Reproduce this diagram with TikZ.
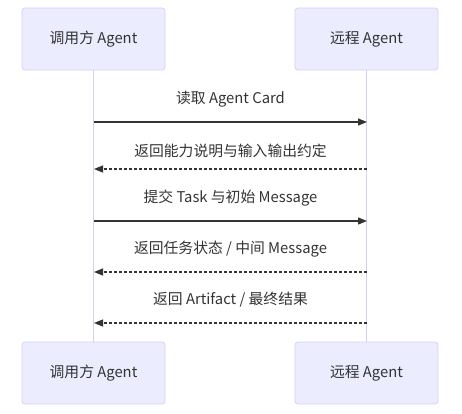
\documentclass[tikz,border=0pt]{standalone}
\usepackage{fontspec}
\setmainfont{Noto Sans CJK SC}
\usetikzlibrary{arrows.meta}
\definecolor{actfill}{HTML}{ECECFF}
\definecolor{actborder}{HTML}{D7D0F3}
\definecolor{txt}{HTML}{333333}
\tikzset{
  actor/.style={draw=actborder, fill=actfill, rounded corners=3pt, minimum width=143pt, minimum height=62pt, inner sep=0pt, font=\fontsize{14.8}{16}\selectfont, text=txt, line width=0.8pt},
  lifeline/.style={draw=actborder, line width=1.2pt},
  msg/.style={draw=txt, line width=1.2pt, -{Triangle[length=9pt,width=7pt]}},
  reply/.style={msg, dash pattern=on 3pt off 2pt},
  lbl/.style={font=\fontsize{14.8}{16}\selectfont, text=txt, inner sep=0pt}
}
\begin{document}
\begin{tikzpicture}[x=1pt,y=-1pt]
\useasboundingbox (0,0) rectangle (462,413);
\node[actor] (a1) at (93.5,39) {调用方 Agent};
\node[actor] (b1) at (366.5,39) {远程 Agent};
\node[actor] (a2) at (93.5,373) {调用方 Agent};
\node[actor] (b2) at (366.5,373) {远程 Agent};
\draw[lifeline] (a1.south) -- (a2.north);
\draw[lifeline] (b1.south) -- (b2.north);
\coordinate (p1) at (94,122);
\coordinate (q1) at (367,122);
\coordinate (p2) at (94,169);
\coordinate (q2) at (367,169);
\coordinate (p3) at (94,221);
\coordinate (q3) at (367,221);
\coordinate (p4) at (94,272);
\coordinate (q4) at (367,272);
\coordinate (p5) at (94,323);
\coordinate (q5) at (367,323);
\draw[msg] (p1) -- (q1);
\draw[reply] (q2) -- (p2);
\draw[msg] (p3) -- (q3);
\draw[reply] (q4) -- (p4);
\draw[reply] (q5) -- (p5);
\node[lbl] (l1) at (230.5,99) {读取 Agent Card};
\node[lbl] (l2) at (230.5,151) {返回能力说明与输入输出约定};
\node[lbl] (l3) at (230.5,198) {提交 Task 与初始 Message};
\node[lbl] (l4) at (230.5,249) {返回任务状态 / 中间 Message};
\node[lbl] (l5) at (230.5,300) {返回 Artifact / 最终结果};
\end{tikzpicture}
\end{document}
